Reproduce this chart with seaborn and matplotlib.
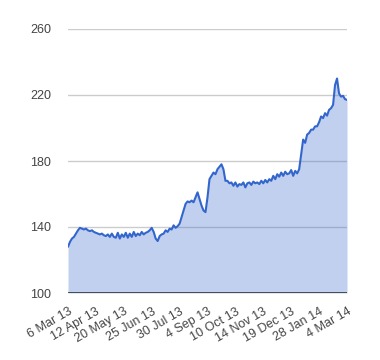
import matplotlib
matplotlib.use("Agg")
import matplotlib.pyplot as plt
import seaborn as sns
import numpy as np
import pandas as pd

tick_labels = ["6 Mar 13", "12 Apr 13", "20 May 13", "25 Jun 13", "30 Jul 13",
               "4 Sep 13", "10 Oct 13", "14 Nov 13", "19 Dec 13", "28 Jan 14", "4 Mar 14"]
y_ticks = [100, 140, 180, 220, 260]

values = [
    128, 131, 133, 134, 136, 138, 139.5, 139, 138.5, 139,
    138, 137.5, 138, 137, 136.5, 136, 135.5, 136, 135, 134.5,
    135.5, 134, 136, 134, 133.5, 136.5, 133, 135.5, 134, 136.5,
    133.5, 136, 134, 137, 134.5, 136, 135, 137, 135.5, 136.5,
    137, 138, 139.5, 137, 133, 131.5, 134.5, 135.5, 136, 138,
    137, 139, 138.5, 141, 139.5, 140.5, 142, 146, 150, 154,
    155.5, 155, 156, 155, 158, 161, 157, 153, 150, 149,
    158, 169, 171, 173, 172, 175, 176.5, 178, 175, 168,
    168, 166.5, 167, 165, 167, 164.5, 166, 165.5, 167, 164,
    166.5, 167, 165.5, 167.5, 166.5, 167, 166, 168, 166.5, 168.5,
    167, 169, 168, 171, 169, 172, 170.5, 173, 171, 173.5,
    172, 172.5, 174.5, 171, 174, 172.5, 175, 184, 193, 191,
    196, 197, 199, 199, 201, 201, 203.5, 207, 206, 209,
    207.5, 211, 212, 214, 226, 230, 221, 219, 219.5, 217.5,
    217,
]

df = pd.DataFrame({"idx": np.arange(len(values)), "value": values})

sns.set_theme(style="white")
plt.rcParams["font.family"] = ["Liberation Sans", "DejaVu Sans"]

fig = plt.figure(figsize=(3.8, 3.6), dpi=100)
ax = fig.add_axes([68/380, 1 - 293/360, (347 - 68)/380, (293 - 29)/360])

ax.fill_between(df["idx"], 100, df["value"], color="#3366CC", alpha=0.3, linewidth=0, zorder=2)
sns.lineplot(data=df, x="idx", y="value", ax=ax, color="#3366CC", linewidth=1.5, zorder=3)

ax.set_xlim(0, len(values) - 1)
ax.set_ylim(100, 260)
ax.set_yticks(y_ticks)
ax.set_yticklabels([str(v) for v in y_ticks])
n = len(tick_labels)
tick_pos = [i * (len(values) - 1) / (n - 1) for i in range(n)]
ax.set_xticks(tick_pos)
ax.set_xticklabels(tick_labels, rotation=30, ha="right", rotation_mode="anchor")

for v in y_ticks[1:]:
    ax.axhline(v, color="#CCCCCC", linewidth=1, zorder=1)
ax.axhline(100, color="#333333", linewidth=1.2, zorder=4)

for s in ax.spines.values():
    s.set_visible(False)
ax.tick_params(axis="both", length=0, labelsize=9, colors="#444444")
ax.tick_params(axis="y", pad=12)
ax.tick_params(axis="x", pad=9)
ax.set_xlabel("")
ax.set_ylabel("")
ax.grid(False)

fig.savefig("out.png", dpi=100)
